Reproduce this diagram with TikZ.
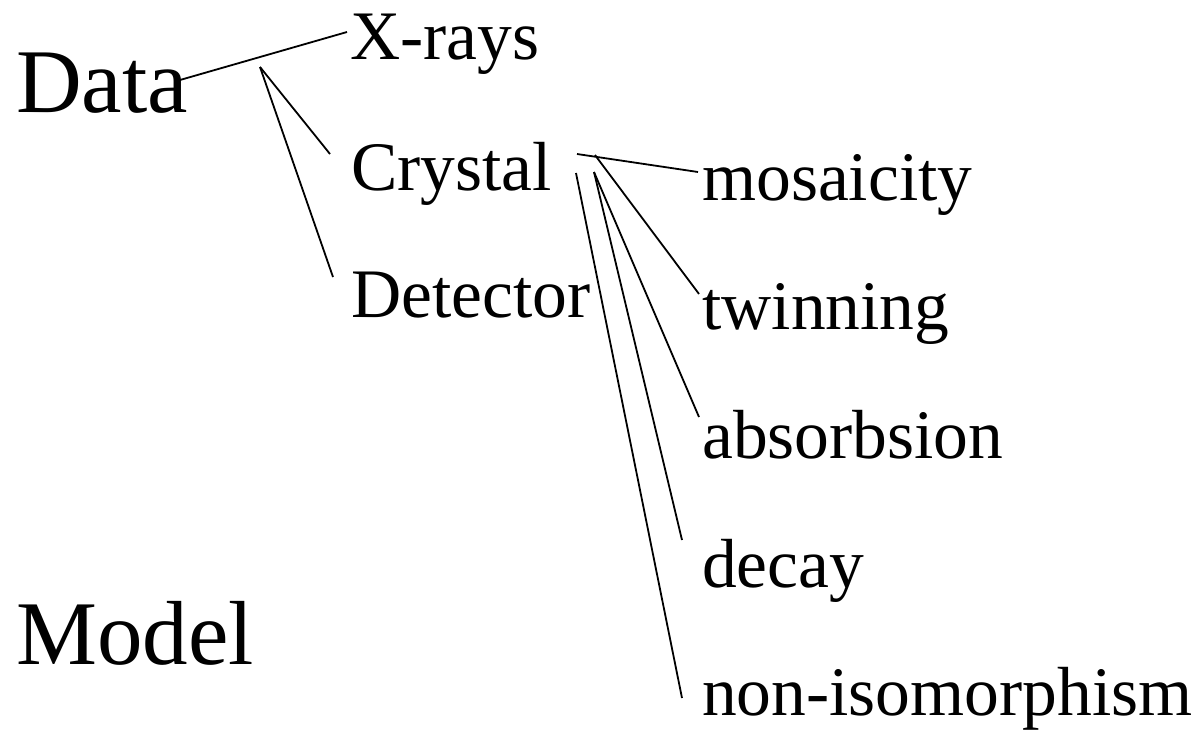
\documentclass[tikz,border=0pt]{standalone}
\usepackage{fontspec}
\setmainfont{Liberation Serif}
\begin{document}
\begin{tikzpicture}[x=1pt,y=-1pt,
  big/.style={anchor=base west,inner sep=0pt,font=\fontsize{91}{91}\selectfont},
  mid/.style={anchor=base west,inner sep=0pt,font=\fontsize{69.5}{70}\selectfont},
  link/.style={line width=1.8pt,line cap=butt}]
\useasboundingbox (0,0) rectangle (1203,731);
% top level
\node[big] (data)  at (16,112) {Data};
\node[big] (model) at (16,664) {Model};
% second level
\node[mid] (xrays)    at (350,59)  {X-rays};
\node[mid] (crystal)  at (351,190) {Crystal};
\node[mid] (detector) at (351,317) {Detector};
% third level
\node[mid] (mosaic) at (702,200) {mosaicity};
\node[mid] (twin)   at (702,329) {twinning};
\node[mid] (absorb) at (702,458) {absorbsion};
\node[mid] (decay)  at (702,587) {decay};
\node[mid] (noniso) at (702,715) {non-isomorphism};
% connector ends
\coordinate (dataR)  at (180,80);
\coordinate (xrL)    at (347,32);
\coordinate (dapex)  at (260,67);
\coordinate (crL)    at (330,154);
\coordinate (deL)    at (333,277);
\coordinate (crR)    at (577,154);
\coordinate (mosL)   at (698,172);
\coordinate (capex)  at (595,155);
\coordinate (twL)    at (699,294);
\coordinate (capexb) at (594,172);
\coordinate (abL)    at (699,417);
\coordinate (dcL)    at (682,540);
\coordinate (capexc) at (576,173);
\coordinate (niL)    at (682,698);
% connectors
\draw[link] (dataR) -- (xrL);
\draw[link] (dapex) -- (crL);
\draw[link] (dapex) -- (deL);
\draw[link] (crR) -- (mosL);
\draw[link] (capex) -- (twL);
\draw[link] (capexb) -- (abL);
\draw[link] (capexb) -- (dcL);
\draw[link] (capexc) -- (niL);
\end{tikzpicture}
\end{document}
